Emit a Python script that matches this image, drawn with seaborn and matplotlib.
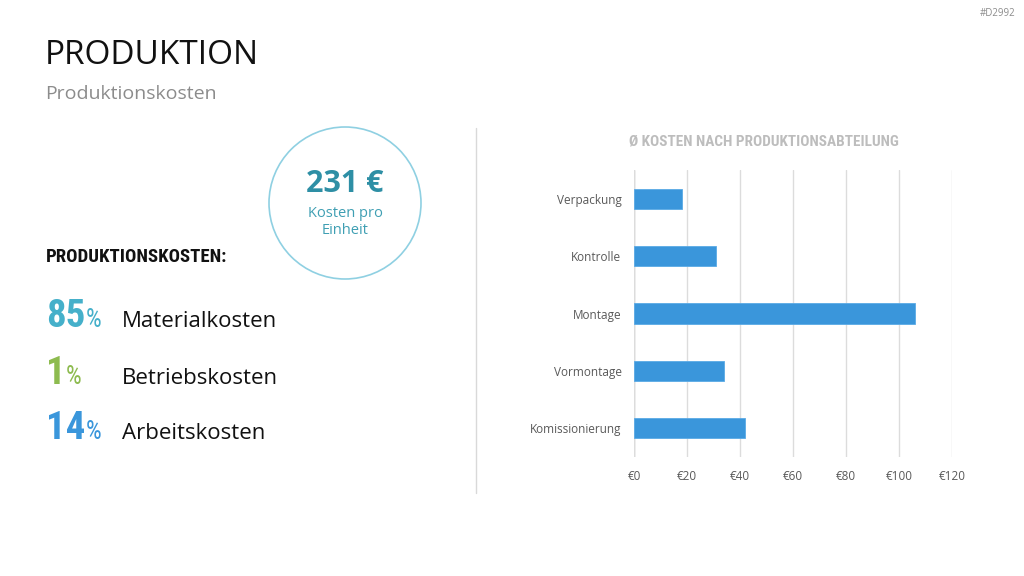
import matplotlib
matplotlib.use("Agg")
import matplotlib.pyplot as plt
import seaborn as sns
import pandas as pd
from matplotlib.patches import Circle
from matplotlib.lines import Line2D

# data
departments = ["Verpackung", "Kontrolle", "Montage", "Vormontage", "Komissionierung"]
costs = [18, 31, 106, 34, 42]
x_ticks = [0, 20, 40, 60, 80, 100, 120]

share_values = ["85", "1", "14"]
share_labels = ["Materialkosten", "Betriebskosten", "Arbeitskosten"]
share_colors = ["#45B0CA", "#8DBB4F", "#3A96DB"]

unit_cost = "231 €"

sns.set_theme(style="white")
plt.rcParams["font.family"] = ["Open Sans", "DejaVu Sans"]

condensed = ["Roboto Condensed", "Roboto", "DejaVu Sans"]

W, H = 1024, 576
fig = plt.figure(figsize=(W / 100, H / 100), dpi=100)
fig.patch.set_facecolor("white")


def fx(px):
    return px / W


def fy(py):
    return 1 - py / H


# bar chart
ax = fig.add_axes([fx(634), fy(457), (952 - 634) / W, (457 - 170) / H])
df = pd.DataFrame({"dept": departments, "cost": costs})
sns.barplot(data=df, x="cost", y="dept", color="#3A96DB", width=0.35,
            saturation=1, ax=ax, edgecolor="#5aaae6", linewidth=0.6)
ax.set_xlim(0, 120)
ax.set_xticks(x_ticks)
ax.set_xticklabels([f"€{t}" for t in x_ticks])
ax.set_xlabel("")
ax.set_ylabel("")
ax.xaxis.grid(True, color="#dcdcdc", linewidth=1)
ax.set_axisbelow(True)
for s in ax.spines.values():
    s.set_visible(False)
ax.axvline(0, color="#bfbfbf", linewidth=1, zorder=0.5)
ax.tick_params(axis="both", length=0, labelsize=8.5, labelcolor="#595959")
ax.tick_params(axis="x", pad=9)
ax.tick_params(axis="y", pad=9)

fig.text(fx(764), fy(142), "Ø KOSTEN NACH PRODUKTIONSABTEILUNG",
         family=condensed, fontweight="bold", fontsize=11, color="#bdbdbd",
         ha="center", va="center")

# separator
fig.add_artist(Line2D([fx(476), fx(476)], [fy(128), fy(493)],
                      color="#d9d9d9", linewidth=1))

# headline
fig.text(fx(45), fy(56), "PRODUKTION", fontsize=24, color="#111111",
         ha="left", va="center")
fig.text(fx(45), fy(94), "Produktionskosten", fontsize=14, color="#8c8c8c",
         ha="left", va="center")
fig.text(fx(1015), fy(14), "#D2992", fontsize=7, color="#8c8c8c",
         ha="right", va="center")

# circle
circ = Circle((345 / 100, (H - 203) / 100), 0.76, transform=fig.dpi_scale_trans,
              fill=False, edgecolor="#8fd0e2", linewidth=1.2)
fig.add_artist(circ)
fig.text(fx(345), fy(184), unit_cost, fontsize=22, fontweight="bold",
         color="#2E8FA5", ha="center", va="center")
fig.text(fx(345), fy(222), "Kosten pro\nEinheit", fontsize=10.5,
         color="#3F9FB3", ha="center", va="center", linespacing=1.2)

# cost shares
fig.text(fx(46), fy(257), "PRODUKTIONSKOSTEN:", family=condensed,
         fontweight="bold", fontsize=13.5, color="#111111", ha="left", va="center")
baselines = [327, 384, 439]
fig.canvas.draw()
for val, lab, col, y in zip(share_values, share_labels, share_colors, baselines):
    t = fig.text(fx(46), fy(y), val, family=condensed, fontweight="bold",
                 fontsize=28, color=col, ha="left", va="baseline")
    bb = t.get_window_extent(renderer=fig.canvas.get_renderer())
    fig.text(bb.x1 / W, fy(y), "%", family=condensed,
             fontsize=18, color=col, ha="left", va="baseline")
    fig.text(fx(122), fy(y), lab, fontsize=16, color="#111111",
             ha="left", va="baseline")

plt.savefig("out.png", dpi=100, facecolor="white")
